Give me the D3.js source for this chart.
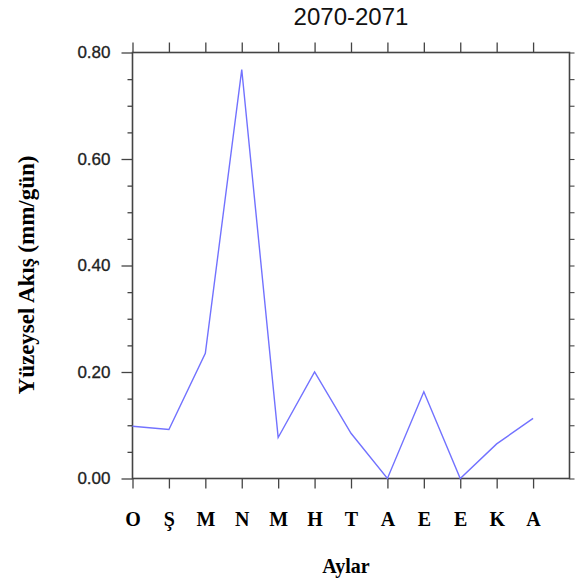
<!DOCTYPE html>
<html>
<head>
<meta charset="utf-8">
<script src="https://cdn.jsdelivr.net/npm/d3@7"></script>
<style>
  html, body { margin: 0; padding: 0; background: #fff; }
  svg { display: block; }
</style>
</head>
<body>
<svg id="chart" width="576" height="585"></svg>
<script>
// Monthly surface runoff, water year 2070-2071
const months = ["O", "Ş", "M", "N", "M", "H", "T", "A", "E", "E", "K", "A"];
const runoff = [0.098, 0.092, 0.235, 0.768, 0.077, 0.200, 0.085, 0.000, 0.163, 0.000, 0.065, 0.113];
const yMajorTicks = [0, 0.2, 0.4, 0.6, 0.8];
const yMinorTicks = d3.range(0, 0.8001, 0.05);
const chartTitle = "2070-2071";
const xTitle = "Aylar";
const yTitle = "Yüzeysel Akış (mm/gün)";

const svg = d3.select("#chart");
const m = { left: 132.5, right: 569.5, top: 52.5, bottom: 478.5 };

const x = d3.scaleLinear().domain([0, 12]).range([m.left, m.right]);
const y = d3.scaleLinear().domain([0, 0.8]).range([m.bottom, m.top]);

const axisColor = "#444";
const sans = "'Liberation Sans', Arial, Helvetica, sans-serif";
const serif = "'Liberation Serif', 'Times New Roman', serif";
const isMajor = d => yMajorTicks.some(v => Math.abs(v - d) < 1e-9);

// Left axis: short minor ticks, then labelled majors
const leftMinor = svg.append("g").attr("transform", `translate(${m.left},0)`)
  .call(d3.axisLeft(y).tickValues(yMinorTicks.filter(d => !isMajor(d))).tickSize(5).tickFormat(""));
const leftMajor = svg.append("g").attr("transform", `translate(${m.left},0)`)
  .call(d3.axisLeft(y).tickValues(yMajorTicks).tickSize(11).tickPadding(11).tickFormat(d3.format(".2f")));
[leftMinor, leftMajor].forEach(g => {
  g.select(".domain").remove();
  g.selectAll(".tick line").attr("stroke", axisColor).attr("stroke-width", 1.3);
});
leftMajor.selectAll(".tick text")
  .attr("font-family", sans).attr("font-size", 17).attr("fill", "#222")
  .attr("stroke", "#222").attr("stroke-width", 0.3);

// Right axis: ticks only
const rightAxis = svg.append("g").attr("transform", `translate(${m.right},0)`)
  .call(d3.axisRight(y).tickValues(yMinorTicks).tickSize(5).tickFormat(""));
rightAxis.select(".domain").remove();
rightAxis.selectAll(".tick line").attr("stroke", axisColor).attr("stroke-width", 1.1);

// Bottom axis with month initials
const xTickVals = d3.range(months.length);
const bottomAxis = svg.append("g").attr("transform", `translate(0,${m.bottom})`)
  .call(d3.axisBottom(x).tickValues(xTickVals).tickSize(10).tickPadding(23).tickFormat(i => months[i]));
bottomAxis.select(".domain").remove();
bottomAxis.selectAll(".tick line").attr("stroke", axisColor).attr("stroke-width", 1.3);
bottomAxis.selectAll(".tick text")
  .attr("font-family", serif).attr("font-size", 20).attr("font-weight", "bold").attr("fill", "#000");

// Top axis: ticks only
const topAxis = svg.append("g").attr("transform", `translate(0,${m.top})`)
  .call(d3.axisTop(x).tickValues(xTickVals).tickSize(10).tickFormat(""));
topAxis.select(".domain").remove();
topAxis.selectAll(".tick line").attr("stroke", axisColor).attr("stroke-width", 1.3);

// Frame
svg.append("rect")
  .attr("x", m.left).attr("y", m.top)
  .attr("width", m.right - m.left).attr("height", m.bottom - m.top)
  .attr("fill", "none").attr("stroke", axisColor).attr("stroke-width", 1.6);

// Runoff line
const line = d3.line().x((d, i) => x(i)).y(d => y(d));
svg.append("path")
  .datum(runoff)
  .attr("d", line)
  .attr("fill", "none")
  .attr("stroke", "#7272ff")
  .attr("stroke-width", 1.4)
  .attr("stroke-linejoin", "miter");

// Titles
svg.append("text")
  .attr("x", (m.left + m.right) / 2).attr("y", 25)
  .attr("text-anchor", "middle")
  .attr("font-family", sans).attr("font-size", 24).attr("fill", "#111")
  .text(chartTitle);

svg.append("text")
  .attr("x", 346).attr("y", 573)
  .attr("text-anchor", "middle")
  .attr("font-family", serif).attr("font-size", 20).attr("font-weight", "bold")
  .text(xTitle);

svg.append("text")
  .attr("transform", "translate(34,275) rotate(-90)")
  .attr("text-anchor", "middle")
  .attr("font-family", serif).attr("font-size", 23).attr("font-weight", "bold")
  .text(yTitle);
</script>
</body>
</html>
